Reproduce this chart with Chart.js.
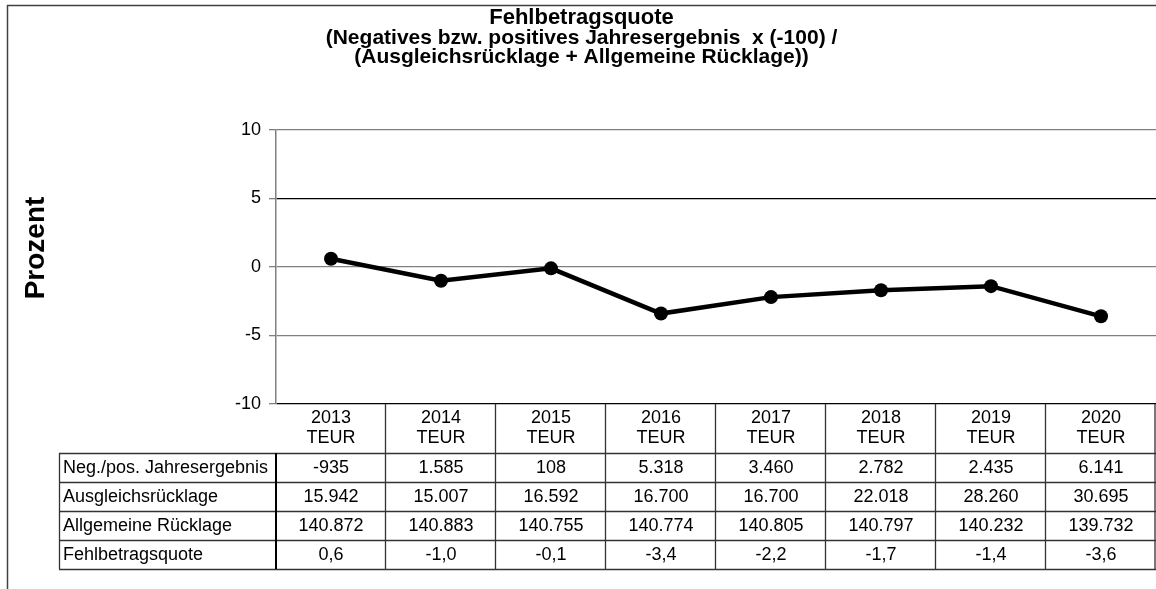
<!DOCTYPE html>
<html>
<head>
<meta charset="utf-8">
<script src="https://cdn.jsdelivr.net/npm/chart.js@4/dist/chart.umd.min.js"></script>
<style>
  html, body { margin: 0; padding: 0; background: #fff; }
  #wrap { width: 1156px; height: 589px; position: relative; }
</style>
</head>
<body>
<div id="wrap"><canvas id="c" width="1156" height="589"></canvas></div>
<script>
const years = ["2013", "2014", "2015", "2016", "2017", "2018", "2019", "2020"];
const unit = "TEUR";
const quote = [0.6, -1.0, -0.1, -3.4, -2.2, -1.7, -1.4, -3.6];
const jahresergebnis = [-935, 1585, 108, 5318, 3460, 2782, 2435, 6141];
const ausgleich = [15942, 15007, 16592, 16700, 16700, 22018, 28260, 30695];
const allgemeine = [140872, 140883, 140755, 140774, 140805, 140797, 140232, 139732];
const rowLabels = ["Neg./pos. Jahresergebnis", "Ausgleichsrücklage", "Allgemeine Rücklage", "Fehlbetragsquote"];
const yTicks = [-10, -5, 0, 5, 10];
const titleLine = "Fehlbetragsquote";
const subtitleLines = ["(Negatives bzw. positives Jahresergebnis  x (-100) /", "(Ausgleichsrücklage + Allgemeine Rücklage))"];
const yTitle = "Prozent";

const FONT = "'Liberation Sans', Arial, sans-serif";

function fmtInt(v) {
  const neg = v < 0;
  let s = String(Math.abs(v));
  s = s.replace(/\B(?=(\d{3})+(?!\d))/g, ".");
  return (neg ? "-" : "") + s;
}
function fmtDec(v) {
  return v.toFixed(1).replace(".", ",");
}

const tableRows = [
  jahresergebnis.map(fmtInt),
  ausgleich.map(fmtInt),
  allgemeine.map(fmtInt),
  quote.map(fmtDec)
];

const tablePlugin = {
  id: 'tablePlugin',
  afterDraw(chart) {
    const ctx = chart.ctx;
    const xs = chart.scales.x;
    const ca = chart.chartArea;
    const n = years.length;
    const half = (ca.right - ca.left) / (2 * n);
    const headTop = ca.bottom;
    const headBottom = 453;
    const rowH = 29;
    const labelLeft = 59;
    const tableBottom = headBottom + rowH * tableRows.length;
    ctx.save();
    // frame
    ctx.strokeStyle = '#404040';
    ctx.lineWidth = 1.5;
    ctx.beginPath();
    ctx.moveTo(7, 5.5); ctx.lineTo(1156, 5.5);
    ctx.moveTo(7.5, 5); ctx.lineTo(7.5, 589);
    ctx.stroke();

    // y axis title
    ctx.save();
    ctx.translate(36, 248);
    ctx.rotate(-Math.PI / 2);
    ctx.fillStyle = '#000';
    ctx.font = 'bold 28px ' + FONT;
    ctx.textAlign = 'center';
    ctx.textBaseline = 'middle';
    ctx.fillText(yTitle, 0, 0);
    ctx.restore();

    // horizontal lines
    ctx.lineWidth = 1.3;
    ctx.strokeStyle = '#333';
    ctx.beginPath();
    for (let r = 0; r <= tableRows.length; r++) {
      const y = Math.round(headBottom + r * rowH) + 0.5;
      ctx.moveTo(labelLeft, y); ctx.lineTo(ca.right, y);
    }
    ctx.stroke();
    // vertical lines
    ctx.beginPath();
    for (let i = 1; i <= n; i++) {
      const x = Math.min(Math.round(xs.getPixelForValue(i - 1) + half) - 0.5, 1155);
      ctx.moveTo(x, headTop); ctx.lineTo(x, tableBottom);
    }
    ctx.moveTo(labelLeft + 0.5, headBottom); ctx.lineTo(labelLeft + 0.5, tableBottom);
    ctx.stroke();
    ctx.lineWidth = 2;
    ctx.strokeStyle = '#000';
    ctx.beginPath();
    ctx.moveTo(ca.left, headBottom); ctx.lineTo(ca.left, tableBottom);
    ctx.stroke();

    // texts
    ctx.fillStyle = '#000';
    ctx.font = '18px ' + FONT;
    ctx.textBaseline = 'middle';
    for (let r = 0; r < tableRows.length; r++) {
      const yc = headBottom + r * rowH + rowH / 2 + 1;
      ctx.textAlign = 'left';
      ctx.fillText(rowLabels[r], labelLeft + 4, yc);
      ctx.textAlign = 'center';
      for (let i = 0; i < n; i++) {
        ctx.fillText(tableRows[r][i], xs.getPixelForValue(i), yc);
      }
    }
    ctx.restore();
  }
};

const ctx = document.getElementById('c').getContext('2d');
new Chart(ctx, {
  type: 'line',
  data: {
    labels: years.map(y => [y, unit]),
    datasets: [{
      data: quote,
      borderColor: '#000',
      backgroundColor: '#000',
      borderWidth: 4.5,
      pointRadius: 7,
      pointHoverRadius: 7,
      pointBackgroundColor: '#000',
      pointBorderColor: '#000',
      pointBorderWidth: 0,
      tension: 0,
      clip: false
    }]
  },
  options: {
    responsive: false,
    animation: false,
    events: [],
    layout: { autoPadding: false, padding: { left: 7, right: 0, top: 0, bottom: 0 } },
    plugins: {
      legend: { display: false },
      tooltip: { enabled: false },
      title: {
        display: true,
        text: titleLine,
        color: '#000',
        font: { family: FONT, size: 22, weight: 'bold', lineHeight: 1.0 },
        padding: { top: 7, bottom: 0 }
      },
      subtitle: {
        display: true,
        text: subtitleLines,
        color: '#000',
        font: { family: FONT, size: 21, weight: 'bold', lineHeight: 0.88 },
        padding: { top: 0, bottom: 64 }
      }
    },
    scales: {
      x: {
        type: 'category',
        offset: true,
        grid: { display: false, drawTicks: false },
        border: { display: false },
        ticks: {
          color: '#000',
          font: { family: FONT, size: 18, lineHeight: 1.1 },
          padding: 4,
          maxRotation: 0,
          autoSkip: false
        },
        afterFit(s) { s.height = 185; s.paddingLeft = 0; s.paddingRight = 0; }
      },
      y: {
        min: -10,
        max: 10,
        afterBuildTicks(s) { s.ticks = yTicks.map(v => ({ value: v })); },
        grid: {
          color: c => (c.tick && (c.tick.value === 5 || c.tick.value === -10)) ? '#000' : '#808080',
          lineWidth: 1.3,
          tickLength: 7,
          tickColor: '#808080',
          drawTicks: true
        },
        border: { display: true, color: '#808080', width: 1.5 },
        ticks: {
          color: '#000',
          font: { family: FONT, size: 18 },
          padding: 8
        },
        title: { display: false },
        afterFit(s) { s.width = 269; s.paddingTop = 0; s.paddingBottom = 0; }
      }
    }
  },
  plugins: [tablePlugin]
});
</script>
</body>
</html>
